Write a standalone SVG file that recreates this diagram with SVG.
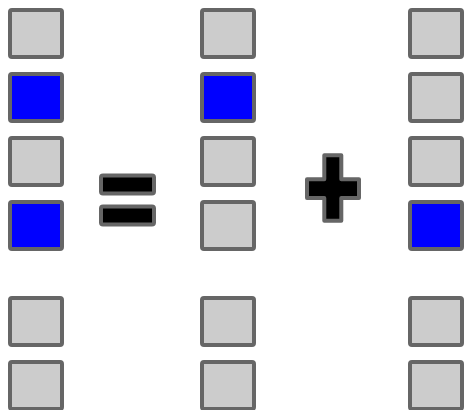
<svg xmlns="http://www.w3.org/2000/svg" width="465" height="410" viewBox="0 0 465 410">
<style>
.c{stroke:#666;stroke-width:4;stroke-linejoin:round}
.g{fill:#ccc}
.b{fill:#00f}
.k{fill:#000}
</style>
<rect width="465" height="410" fill="#fff"/>
<g id="col1">
<rect id="a1" class="c g" x="10" y="10" width="52" height="47" rx="2"/>
<rect id="a2" class="c b" x="10" y="74" width="52" height="47" rx="2"/>
<rect id="a3" class="c g" x="10" y="138" width="52" height="47" rx="2"/>
<rect id="a4" class="c b" x="10" y="202" width="52" height="47" rx="2"/>
<rect id="a5" class="c g" x="10" y="298" width="52" height="47" rx="2"/>
<rect id="a6" class="c g" x="10" y="362" width="52" height="47" rx="2"/>
</g>
<g id="equals">
<rect class="c k" x="101" y="175.5" width="53" height="18" rx="2"/>
<rect class="c k" x="101" y="206.5" width="53" height="18" rx="2"/>
</g>
<g id="col2">
<rect id="b1" class="c g" x="202" y="10" width="52" height="47" rx="2"/>
<rect id="b2" class="c b" x="202" y="74" width="52" height="47" rx="2"/>
<rect id="b3" class="c g" x="202" y="138" width="52" height="47" rx="2"/>
<rect id="b4" class="c g" x="202" y="202" width="52" height="47" rx="2"/>
<rect id="b5" class="c g" x="202" y="298" width="52" height="47" rx="2"/>
<rect id="b6" class="c g" x="202" y="362" width="52" height="47" rx="2"/>
</g>
<g id="plus">
<path class="c k" d="M324.3,155.3 H341.3 V179.3 H359 V198 H341.3 V220.7 H324.3 V198 H307 V179.3 H324.3 Z"/>
</g>
<g id="col3">
<rect id="c1" class="c g" x="410" y="10" width="52" height="47" rx="2"/>
<rect id="c2" class="c g" x="410" y="74" width="52" height="47" rx="2"/>
<rect id="c3" class="c g" x="410" y="138" width="52" height="47" rx="2"/>
<rect id="c4" class="c b" x="410" y="202" width="52" height="47" rx="2"/>
<rect id="c5" class="c g" x="410" y="298" width="52" height="47" rx="2"/>
<rect id="c6" class="c g" x="410" y="362" width="52" height="47" rx="2"/>
</g>
</svg>
